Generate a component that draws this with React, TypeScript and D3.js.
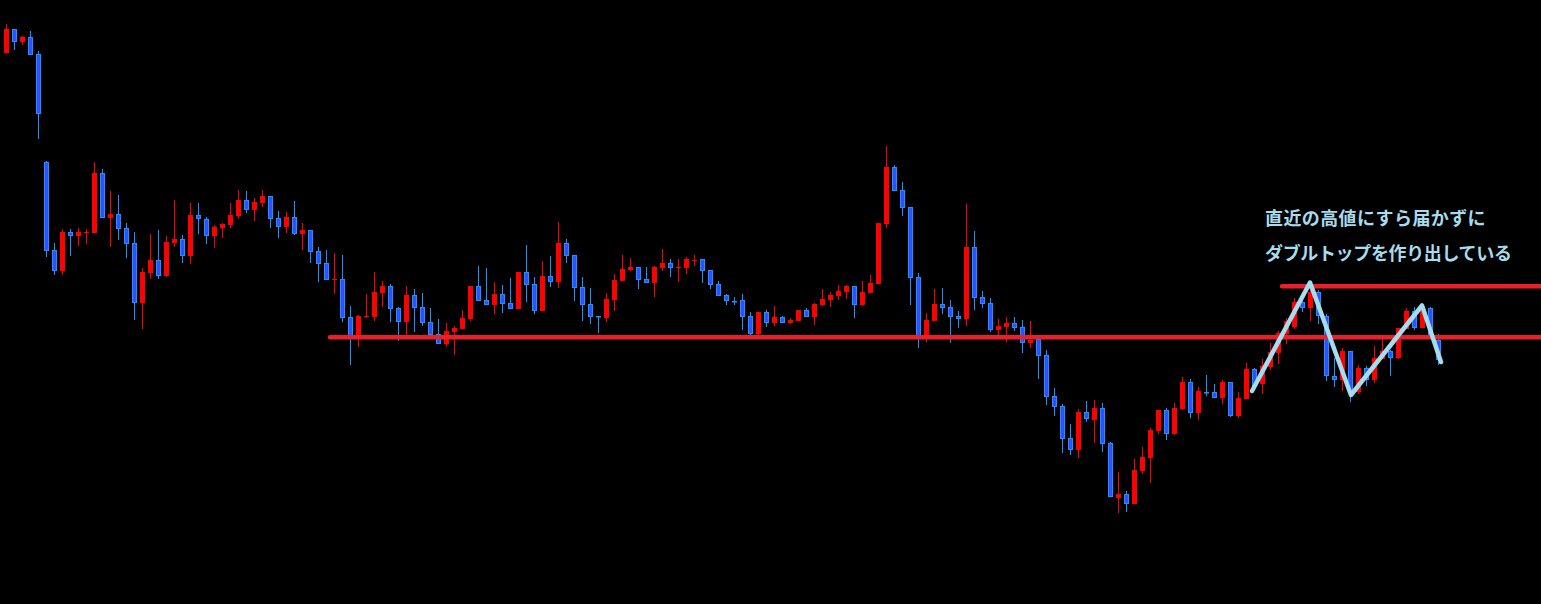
import React from "react";
import * as d3 from "d3";

const W = 1541;
const H = 604;

// OHLC values (one per candle, oldest first)
const opens = [
  547.3, 571, 558.3, 563, 546, 438, 350, 329.3, 368, 364.3,
  367.5, 367.3, 427, 382.3, 386, 372, 356.7, 297.3, 327.3, 339.7,
  324.3, 357.3, 361, 344.3, 385, 381, 364.3, 372.3, 375, 384.3,
  400, 390.3, 397, 404, 382, 373.3, 383, 366.3, 370, 349,
  337, 320.7, 321, 283, 262, 283.5, 283.3, 307.3, 314, 292,
  278.3, 305, 293, 278, 266, 256.3, 268.3, 271.3, 281.3, 314,
  300, 295.3, 306, 297, 291.3, 328, 316, 289.3, 324, 318.3,
  357, 345, 313, 296, 284, 282.3, 300.3, 319.3, 330.3, 333,
  321, 317.3, 332.3, 337, 332.7, 332.3, 340, 341, 330, 316,
  305, 299.2, 300, 284, 266.3, 288, 277.3, 283, 277.3, 279.3,
  290, 283.3, 295.3, 300.3, 304.3, 308.3, 314, 295.3, 307.3, 316.3,
  376.3, 433, 410, 393, 323, 263, 279.3, 296, 293, 284,
  281.3, 353, 303, 297, 270.3, 273.3, 277.3, 273.3, 257.3, 261.3,
  245, 204, 194, 162, 150.3, 188, 180.3, 192, 157, 102.3,
  106.3, 96.3, 129.3, 142.3, 169.3, 190, 166.3, 191, 218, 187.3,
  208.5, 208, 202.3, 218, 184.3, 201.3, 231, 216.3, 233.3, 247.3,
  266, 273, 298, 292.3, 308, 284, 224, 219.7, 249, 208,
  232, 219.7, 241.3, 249, 242.3, 271.3, 289, 272.3, 292, 260,
];
const highs = [
  576, 571, 564.3, 569, 549, 439, 357, 371, 371, 372,
  371, 438, 431, 409, 405, 377, 368, 332, 366, 370,
  364, 400, 365, 397, 397, 383, 375, 377, 397, 410,
  409, 402, 410, 404, 389, 388, 399, 377, 370, 353,
  350, 347, 345, 294, 285, 306, 328, 319, 316, 293,
  314, 311, 307, 292, 281, 277, 274, 290, 314, 334,
  332, 318, 315, 322, 328, 355, 323, 339, 344, 378,
  361, 345, 323, 312, 284, 307, 326, 345, 342, 333,
  333, 334, 351, 341, 341, 343, 345, 341, 330, 319,
  306, 303, 306, 288, 288, 290, 294, 284, 282, 290,
  292, 297, 311, 308, 315, 315, 314, 319, 325, 377,
  454, 435, 418, 393, 327, 287, 311, 312, 300, 289,
  396, 369, 309, 302, 281.3, 283.3, 283.3, 280.3, 279.3, 261.3,
  250.3, 212.3, 196.3, 176.3, 191.3, 199, 200, 197, 158.3, 128,
  109, 141.3, 153, 172.3, 190, 192, 197, 223, 221, 213,
  225, 216.3, 220, 218, 208, 237, 232, 241, 257, 269,
  282, 302, 300, 310, 310, 286, 242, 252, 249, 235,
  234, 254, 261, 250, 272, 292, 293, 295, 293, 266,
];
const lows = [
  547, 550, 555, 545.3, 461.3, 343.3, 325, 325, 344.3, 354.3,
  356.3, 367.3, 382.3, 353, 360.3, 342.3, 280.3, 271.3, 321.3, 321.3,
  323.3, 353.3, 337.3, 336.3, 366.3, 356.3, 352.3, 362.3, 372.3, 381,
  387.3, 379.3, 393, 372.3, 362.3, 367.3, 365.3, 350.3, 337.3, 318.3,
  320.3, 306.3, 278.3, 235.3, 253.3, 282.3, 279.3, 293.3, 278.3, 259.3,
  262.3, 268.3, 274.3, 265.3, 256.3, 253.3, 245.3, 271.3, 279.3, 299.3,
  295.3, 286.3, 287.3, 291.3, 291.3, 298.3, 286.3, 289.3, 313.3, 312.3,
  337.3, 299.3, 279.3, 276.3, 267.3, 278.3, 289.3, 319.3, 329.3, 311.3,
  317.3, 303.3, 329.3, 323.3, 318.3, 326.3, 334.3, 317.3, 311.3, 304.3,
  295.3, 295.3, 270.3, 265.3, 264.3, 273.3, 274.3, 277.3, 276.3, 279.3,
  283.3, 275.3, 294.3, 293.3, 300.3, 301.3, 282.3, 294.3, 307.3, 316.3,
  372.3, 409.3, 384.3, 295.3, 252.3, 258.3, 279.3, 286.3, 257.3, 272.3,
  274.3, 290.3, 292.3, 268.3, 263.3, 258.3, 269.3, 247.3, 252.3, 221.3,
  195.3, 184.3, 147.3, 145.3, 142.3, 178.3, 157.3, 148.3, 102.7, 87.3,
  88.3, 96.3, 126.3, 117.3, 166.3, 160.3, 165.3, 190, 182.3, 180.3,
  204.3, 202.3, 196.3, 183.3, 182.3, 201.3, 213.3, 206.3, 230.3, 236.3,
  256, 271, 288.3, 279.3, 276, 219, 213.3, 209.3, 197.7, 206,
  214.3, 217.3, 241.3, 224.3, 241.3, 271.3, 270.3, 272.3, 265, 235,
];
const closes = [
  571, 558.3, 563, 545.3, 486.3, 349.3, 329.3, 368, 364.3, 368,
  368, 427, 382.3, 386, 371.3, 356.3, 297.3, 327.7, 339.7, 324.3,
  358, 361, 344.3, 385, 380.7, 364.3, 373, 376, 385, 400,
  390.3, 398, 404, 381.3, 373.3, 383, 366.3, 370, 348.3, 336.3,
  320.3, 321, 282.3, 262, 284, 284, 308, 314, 291.3, 278.3,
  305, 292.3, 277.3, 265.3, 256.3, 269, 272, 282, 314, 299.3,
  295.3, 306, 296.3, 291.3, 328, 315.3, 289.3, 324, 318.3, 357,
  344.3, 312.3, 295.3, 283.3, 282.5, 301, 320, 331, 333, 320.3,
  317.3, 333, 337, 332.3, 333, 341, 340.3, 329.3, 315.3, 304.3,
  299.3, 298.8, 283.3, 266.3, 288, 277.3, 283, 277.3, 280, 290,
  283.3, 296, 301, 305, 309, 314, 295.3, 308, 317, 377,
  433, 409.3, 392.3, 322.3, 264, 280, 296, 292.3, 283.3, 281.3,
  353, 302.3, 296.3, 270.3, 274.3, 277.3, 272.3, 257.3, 260.3, 244.3,
  203.3, 193.3, 161.3, 150.3, 188.3, 180.7, 192, 156.3, 102.7, 106.3,
  96.3, 130.3, 143, 170.3, 190, 166.3, 192, 218, 187.3, 209,
  208, 202.3, 218, 184.3, 202, 231, 213.3, 234, 248, 266.7,
  279, 298, 292.3, 308, 284, 224, 219.7, 249, 208, 232,
  219.7, 242, 249, 242.3, 272, 289, 272.3, 289, 265, 240,
];

// Annotation values
const supportLevel = 262.7;
const resistanceLevel = 313.7;
const supportStartIdx = 40.44;
const resistanceStartIdx = 159.44;
const zigzagIdx = [155.69, 162.94, 168.06, 176.94, 179.31];
const zigzagPrice = [209, 317.5, 205, 294.5, 238];
const noteLines = ["直近の高値にすら届かずに", "ダブルトップを作り出している"];

const UP = "#ff0000";
const DOWN_FILL = "#3050ff";
const DOWN_EDGE = "#1e90ff";
const LEVEL = "#e8202a";
const ZIG = "#a6dcee";

export default function App() {
  const n = opens.length;
  const x = d3.scaleLinear().domain([0, n - 1]).range([6.5, 6.5 + 8 * (n - 1)]);
  const y = d3.scaleLinear().domain([-4, 600]).range([H, 0]);
  const bodyW = 5;

  const zz = d3
    .line<number>()
    .x((_, i) => x(zigzagIdx[i]))
    .y((_, i) => y(zigzagPrice[i]));

  return (
    <div style={{ position: "fixed", left: 0, top: 0, width: W, height: H, background: "#000" }}>
      <svg width={W} height={H} style={{ display: "block", background: "#000" }}>
        <g>
          {opens.map((o, i) => {
            const c = closes[i];
            const up = c > o;
            const cx = x(i);
            const top = Math.round(y(Math.max(o, c)));
            const bot = Math.round(y(Math.min(o, c)));
            const h = Math.max(1, bot - top);
            const wickColor = up ? UP : DOWN_EDGE;
            return (
              <g key={i}>
                <line
                  x1={cx}
                  x2={cx}
                  y1={y(highs[i])}
                  y2={y(lows[i])}
                  stroke={wickColor}
                  strokeWidth={1}
                  shapeRendering="crispEdges"
                />
                {up ? (
                  <rect
                    x={cx - bodyW / 2}
                    y={top}
                    width={bodyW}
                    height={h}
                    fill={UP}
                    shapeRendering="crispEdges"
                  />
                ) : (
                  <rect
                    x={cx - bodyW / 2 + 0.5}
                    y={top + 0.5}
                    width={bodyW - 1}
                    height={Math.max(0.5, h - 1)}
                    fill={DOWN_FILL}
                    stroke={DOWN_EDGE}
                    strokeWidth={1}
                  />
                )}
              </g>
            );
          })}
        </g>
        <line
          x1={x(supportStartIdx)}
          x2={W + 10}
          y1={y(supportLevel)}
          y2={y(supportLevel)}
          stroke={LEVEL}
          strokeWidth={4.5}
          strokeLinecap="round"
        />
        <line
          x1={x(resistanceStartIdx)}
          x2={W + 10}
          y1={y(resistanceLevel)}
          y2={y(resistanceLevel)}
          stroke={LEVEL}
          strokeWidth={4.5}
          strokeLinecap="round"
        />
        <path
          d={zz(zigzagPrice) || ""}
          fill="none"
          stroke={ZIG}
          strokeWidth={4.5}
          strokeLinejoin="round"
          strokeLinecap="round"
        />
        <g
          fontFamily="'Noto Sans CJK JP', 'Noto Sans', sans-serif"
          fontWeight="bold"
          fontSize={18}
          fill={ZIG}
        >
          {noteLines.map((t, k) => (
            <text key={k} x={1265} y={225 + k * 35} letterSpacing={k === 0 ? 0.4 : -0.35}>
              {t}
            </text>
          ))}
        </g>
      </svg>
    </div>
  );
}
